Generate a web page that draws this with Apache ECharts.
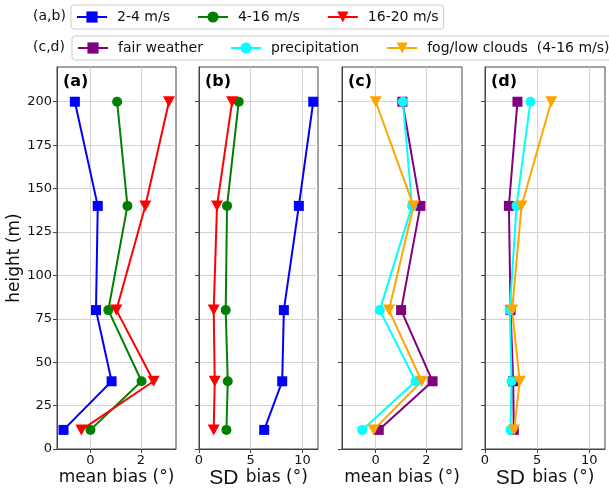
<!DOCTYPE html>
<html><head><meta charset="utf-8">
<script src="https://cdn.jsdelivr.net/npm/echarts@6/dist/echarts.min.js"></script>
<style>html,body{margin:0;padding:0;background:#fff}#c{width:609px;height:488px}</style>
</head><body><div id="c"></div><script>
// Heights (m)
const heights = [11, 39, 80, 140, 200];
// Panel (a): mean bias by wind speed class
const a_2_4 = [-1.07, 0.84, 0.22, 0.29, -0.62];
const a_4_16 = [0.0, 2.03, 0.71, 1.47, 1.06];
const a_16_20 = [-0.36, 2.51, 1.03, 2.18, 3.12];
// Panel (b): SD bias by wind speed class
const b_2_4 = [6.3, 8.04, 8.2, 9.65, 11.04];
const b_4_16 = [2.65, 2.78, 2.58, 2.71, 3.84];
const b_16_20 = [1.42, 1.52, 1.42, 1.74, 3.2];
// Panel (c): mean bias by weather (4-16 m/s)
const c_fair = [0.12, 2.24, 1.0, 1.76, 1.05];
const c_precip = [-0.53, 1.57, 0.16, 1.43, 1.07];
const c_fog = [-0.08, 1.81, 0.52, 1.49, 0.0];
// Panel (d): SD bias by weather (4-16 m/s)
const d_fair = [2.76, 2.70, 2.45, 2.29, 3.11];
const d_precip = [2.45, 2.54, 2.38, 3.02, 4.35];
const d_fog = [2.79, 3.33, 2.6, 3.5, 6.35];

const yTicks = [0, 25, 50, 75, 100, 125, 150, 175, 200];
const meanTicks = [0, 2];
const sdTicks = [0, 5, 10];
const windNames = ['2-4 m/s', '4-16 m/s', '16-20 m/s'];
const wxNames = ['fair weather', 'precipitation', 'fog/low clouds  (4-16 m/s)'];
const panelLabels = ['(a)', '(b)', '(c)', '(d)'];

const FONT = 'DejaVu Sans';
const AX = '#444';
const TRI = 'path://M0,0L2,0L1,1.8Z';

const gridPos = [[57,119],[199,119],[342,120],[485,120]];
const xRanges = [[-1.33,3.4],[0,11.5],[-1.33,3.4],[0,11.5]];
const xTickSets = [meanTicks, sdTicks, meanTicks, sdTicks];
const meanName = 'mean bias (°)';
const sdName = '{sd|SD} bias (°)';
const xNames = [meanName, sdName, meanName, sdName];

function pts(xs){ return xs.map((v,i)=>[v, heights[i]]); }

const grid = gridPos.map(p=>({left:p[0], top:67, width:p[1], height:382, show:true, borderColor:AX, borderWidth:1,
  containLabel:false, outerBoundsMode:'none'}));
const xAxis = gridPos.map((p,i)=>({
  gridIndex:i, type:'value', min:xRanges[i][0], max:xRanges[i][1],
  axisLine:{show:true, onZero:false, lineStyle:{color:AX, width:1}},
  axisTick:{show:true, inside:false, length:4, customValues:xTickSets[i], lineStyle:{color:AX}},
  axisLabel:{customValues:xTickSets[i], margin:5, fontSize:13, color:'#111', fontFamily:FONT},
  splitLine:{show:true, lineStyle:{color:'#d3d3d3', width:1}},
  name:xNames[i], nameLocation:'middle', nameGap:19, nameMoveOverlap:false,
  nameTextStyle:{fontSize:17, lineHeight:20, verticalAlign:'top', color:'#111', fontFamily:FONT,
    rich:{sd:{fontSize:21, lineHeight:20, fontFamily:'Liberation Sans', color:'#111', padding:[0,2,0,0]}}}
}));
const yAxis = gridPos.map((p,i)=>({
  gridIndex:i, type:'value', min:0, max:220, interval:25,
  axisLine:{show:true, onZero:false, lineStyle:{color:AX, width:1}},
  axisTick:{show:true, inside:false, length:4, customValues:yTicks, lineStyle:{color:AX}},
  axisLabel:{show:i===0, customValues:yTicks, margin:5, fontSize:13, color:'#111', fontFamily:FONT},
  splitLine:{show:true, lineStyle:{color:'#d3d3d3', width:1}},
  name: i===0 ? 'height (m)' : '', nameLocation:'middle', nameGap:31,
  nameTextStyle:{fontSize:17, color:'#111', fontFamily:FONT}
}));

function ser(name, data, color, symbol, size, gi){
  return {type:'line', name:name, xAxisIndex:gi, yAxisIndex:gi, data:pts(data),
    symbol:symbol, symbolSize:size, showAllSymbol:true,
    lineStyle:{color:color, width:2}, itemStyle:{color:color},
    emphasis:{disabled:true}, animation:false, clip:false};
}
const series = [
  ser(windNames[0], a_2_4, '#0000ff', 'rect', 10, 0),
  ser(windNames[1], a_4_16, '#008000', 'circle', 10, 0),
  ser(windNames[2], a_16_20, '#ff0000', TRI, [12,11], 0),
  ser(windNames[0], b_2_4, '#0000ff', 'rect', 10, 1),
  ser(windNames[1], b_4_16, '#008000', 'circle', 10, 1),
  ser(windNames[2], b_16_20, '#ff0000', TRI, [12,11], 1),
  ser(wxNames[0], c_fair, '#800080', 'rect', 10, 2),
  ser(wxNames[1], c_precip, '#00ffff', 'circle', 10, 2),
  ser(wxNames[2], c_fog, '#ffa500', TRI, [12,11], 2),
  ser(wxNames[0], d_fair, '#800080', 'rect', 10, 3),
  ser(wxNames[1], d_precip, '#00ffff', 'circle', 10, 3),
  ser(wxNames[2], d_fog, '#ffa500', TRI, [12,11], 3)
];

const legendBase = {orient:'horizontal', padding:[5,5,5,5], itemWidth:30, itemHeight:14, itemGap:27,
  borderColor:'#cccccc', borderWidth:1, borderRadius:3, backgroundColor:'#fff', width:900,
  textStyle:{fontSize:14, fontFamily:FONT, color:'#111', padding:[0,0,0,5]}, selectedMode:false};
const legend = [
  Object.assign({}, legendBase, {left:71, top:5, data:windNames}),
  Object.assign({}, legendBase, {left:72, top:36, data:wxNames})
];

const title = panelLabels.map((t,i)=>({text:t, left:gridPos[i][0]+6, top:74, padding:0,
  textStyle:{fontSize:16, fontWeight:'bold', fontFamily:FONT, color:'#000'}}))
  .concat([
    {text:'(a,b)', left:33, top:9, padding:0, textStyle:{fontSize:14, fontWeight:'normal', fontFamily:FONT, color:'#111'}},
    {text:'(c,d)', left:33, top:40, padding:0, textStyle:{fontSize:14, fontWeight:'normal', fontFamily:FONT, color:'#111'}}
  ]);

const chart = echarts.init(document.getElementById('c'));
chart.setOption({animation:false, backgroundColor:'#fff', title, legend, grid, xAxis, yAxis, series});
</script></body></html>
